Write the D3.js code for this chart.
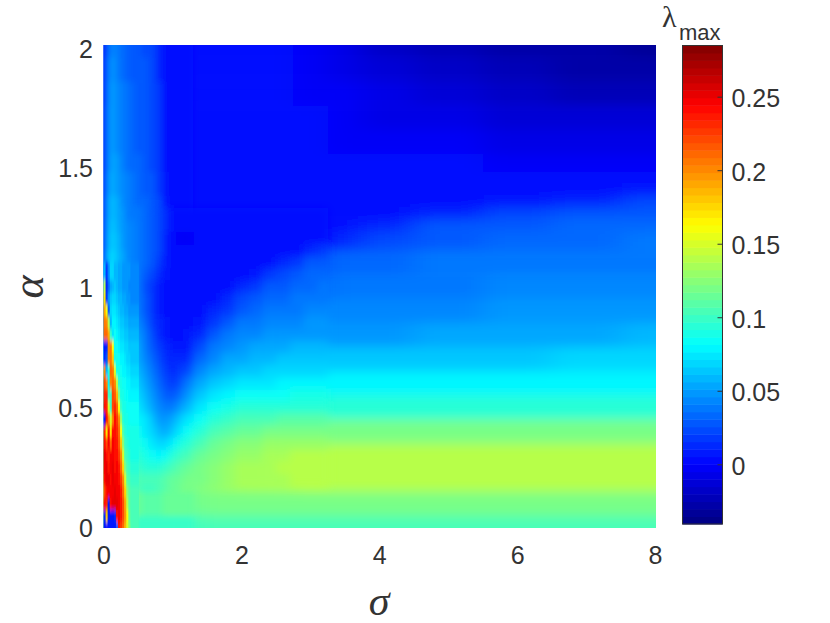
<!DOCTYPE html>
<html>
<head>
<meta charset="utf-8">
<script src="https://cdn.jsdelivr.net/npm/d3@7"></script>
<style>
	html, body { margin: 0; background: #ffffff; }
	text { font-family: "Liberation Sans", Arial, sans-serif; fill: #333333; }
	.greek { font-family: "Liberation Serif", "Times New Roman", serif; }
</style>
</head>
<body>
<svg id="chart" width="830" height="623"></svg>
<script>
// tick labels
var sigmaTicks = [0, 2, 4, 6, 8];
var alphaTicks = [0, 0.5, 1, 1.5, 2];
var lambdaTicks = [0, 0.05, 0.1, 0.15, 0.2, 0.25];

// jet colormap, 64 levels like the matlab original
var jetPositions = [0, 0.125, 0.375, 0.625, 0.875, 1];
var jetColors = ["#000080", "#0000ff", "#00ffff", "#ffff00", "#ff0000", "#800000"];
var lambdaRange = [-0.0406, 0.2848];

// coarse read of the whole map, lambda_max at (sigma, alpha)
var sigmaCols = [0.02, 0.06, 0.1, 0.15, 0.2, 0.3, 0.4, 0.5, 0.6, 0.7, 0.8, 0.9, 1, 1.2, 1.4, 1.7, 2, 2.5, 3, 3.5, 4, 5, 6, 7, 8];
var alphaRows = [2, 1.9, 1.8, 1.7, 1.6, 1.5, 1.45, 1.4, 1.35, 1.3, 1.25, 1.2, 1.1, 1, 0.9, 0.8, 0.7, 0.6, 0.5, 0.4, 0.3, 0.2, 0.1, 0];
var lambdaValues = [
	[.004,.03,.045,.042,.038,.033,.03,.028,.025,.022,.012,.004,.003,.003,.003,.003,.003,.002,-.004,-.01,-.016,-.024,-.028,-.030,-.032],
	[.006,.035,.05,.046,.04,.034,.03,.028,.026,.022,.014,.002,.004,.004,.004,.004,.003,.002,-.002,-.008,-.013,-.02,-.024,-.026,-.028],
	[.006,.035,.052,.048,.042,.036,.032,.03,.026,.024,.016,.002,.004,.004,.004,.004,.004,.003,0,-.005,-.009,-.015,-.019,-.021,-.023],
	[.006,.036,.052,.05,.044,.037,.032,.03,.027,.024,.016,.002,.003,.004,.004,.004,.004,.003,.001,-.003,-.006,-.01,-.012,-.013,-.014],
	[.006,.036,.054,.05,.045,.038,.033,.03,.027,.024,.017,.003,.002,.004,.004,.004,.004,.004,.002,0,-.002,-.004,-.006,-.007,-.008],
	[.006,.04,.056,.052,.046,.04,.035,.031,.028,.025,.018,.005,.002,.003,.004,.004,.005,.005,.004,.003,.002,.001,0,0,0],
	[.006,.042,.058,.054,.048,.041,.036,.032,.029,.026,.019,.006,.002,.003,.004,.004,.005,.005,.005,.004,.004,.004,.004,.004,.005],
	[.007,.045,.06,.056,.05,.043,.038,.034,.03,.027,.02,.008,.002,.002,.003,.004,.005,.005,.005,.005,.005,.005,.005,.005,.008],
	[.007,.048,.062,.058,.052,.045,.039,.035,.031,.028,.021,.01,.002,.002,.003,.004,.005,.005,.005,.005,.004,.005,.006,.012,.022],
	[.008,.05,.064,.06,.054,.046,.04,.036,.032,.029,.022,.012,.002,.002,.003,.004,.004,.004,.004,.004,.003,.012,.022,.028,.03],
	[.008,.052,.066,.062,.055,.047,.041,.037,.033,.03,.023,.012,.002,.002,.002,.003,.003,.003,.003,.003,.012,.026,.03,.033,.033],
	[.01,.054,.07,.065,.057,.049,.042,.038,.034,.03,.022,.01,.002,.002,.002,.002,.002,.002,.003,.015,.025,.03,.034,.035,.036],
	[.012,.058,.075,.07,.06,.052,.045,.04,.035,.03,.02,.008,.002,.002,.002,.002,.002,.01,.027,.032,.035,.037,.038,.039,.04],
	[.02,.06,.07,.065,.06,.055,.045,.03,.02,.012,.005,.002,.002,.002,.002,.002,.012,.028,.035,.038,.04,.04,.042,.043,.045],
	[.03,.05,.07,.075,.07,.062,.05,.038,.025,.015,.008,.004,.003,.002,.003,.016,.03,.038,.042,.043,.044,.045,.046,.047,.048],
	[.05,.06,.08,.085,.08,.07,.058,.045,.033,.02,.012,.007,.006,.006,.015,.033,.04,.046,.049,.05,.05,.051,.052,.055,.058],
	[.07,.08,.09,.09,.085,.078,.065,.055,.042,.028,.018,.014,.012,.018,.033,.048,.055,.06,.063,.063,.065,.066,.066,.068,.07],
	[.08,.09,.095,.095,.09,.085,.075,.065,.052,.04,.028,.022,.022,.038,.052,.065,.07,.076,.077,.078,.078,.08,.08,.08,.081],
	[.09,.1,.1,.1,.1,.095,.085,.073,.062,.05,.038,.035,.04,.062,.072,.085,.088,.095,.095,.095,.095,.096,.096,.096,.096],
	[.1,.11,.11,.11,.105,.1,.09,.082,.072,.062,.052,.055,.07,.088,.095,.105,.112,.118,.12,.12,.12,.12,.12,.12,.118],
	[.11,.12,.12,.12,.11,.105,.1,.09,.085,.078,.075,.085,.095,.108,.115,.125,.13,.136,.14,.14,.14,.142,.142,.142,.14],
	[.12,.13,.13,.13,.125,.12,.115,.105,.1,.1,.105,.11,.115,.12,.125,.13,.135,.137,.138,.138,.14,.14,.14,.14,.138],
	[.125,.13,.13,.13,.13,.13,.13,.115,.11,.11,.11,.113,.115,.117,.118,.118,.12,.118,.118,.118,.118,.118,.118,.118,.118],
	[.12,.12,.12,.12,.12,.12,.12,.1,.1,.1,.1,.1,.1,.1,.102,.104,.105,.102,.102,.102,.102,.102,.102,.102,.102]
];

// closer read of the dark valley around sigma = 1
var valleySigma = [0.4, 0.5, 0.6, 0.7, 0.8, 0.9, 1, 1.1, 1.2, 1.4, 1.6, 1.8, 2, 2.2, 2.4, 2.6, 2.8, 3, 3.2];
var valleyAlpha = [1.3, 1.25, 1.2, 1.15, 1.1, 1.05, 1, 0.95, 0.9, 0.85, 0.8, 0.75, 0.7, 0.65, 0.6, 0.55, 0.5, 0.45, 0.4, 0.35, 0.3, 0.25, 0.2];
var valleyValues = [
	[.04,.036,.032,.029,.022,.012,.004,.002,.002,.002,.003,.004,.004,.004,.004,.004,.004,.004,.004],
	[.041,.037,.033,.03,.023,.012,.003,.002,.002,.002,.003,.003,.003,.003,.003,.003,.003,.003,.004],
	[.042,.038,.034,.03,.022,.01,.002,-.002,-.003,.001,.002,.002,.002,.002,.002,.002,.002,.003,.005],
	[.043,.039,.034,.03,.021,.009,.002,.002,.002,.002,.002,.002,.002,.002,.002,.003,.005,.012,.016],
	[.045,.04,.035,.03,.02,.008,.002,.002,.002,.002,.002,.002,.002,.003,.005,.012,.02,.027,.03],
	[.047,.038,.03,.024,.015,.006,.002,.002,.002,.002,.002,.002,.004,.008,.016,.024,.03,.032,.034],
	[.048,.036,.025,.016,.01,.004,.002,.002,.002,.002,.002,.004,.012,.02,.026,.03,.033,.035,.037],
	[.05,.038,.026,.016,.009,.004,.002,.002,.002,.002,.004,.012,.022,.027,.031,.034,.036,.038,.04],
	[.052,.04,.028,.018,.01,.005,.003,.002,.002,.003,.012,.02,.03,.034,.037,.039,.04,.042,.042],
	[.055,.043,.032,.02,.012,.006,.004,.003,.003,.008,.02,.03,.036,.04,.042,.044,.045,.046,.046],
	[.058,.047,.036,.024,.014,.008,.005,.005,.006,.015,.028,.036,.042,.045,.047,.048,.049,.05,.05],
	[.062,.051,.04,.028,.017,.011,.008,.008,.01,.024,.036,.044,.05,.053,.055,.056,.057,.058,.058],
	[.066,.056,.044,.032,.021,.014,.011,.011,.015,.033,.044,.052,.056,.059,.061,.062,.063,.064,.064],
	[.07,.06,.05,.037,.026,.018,.015,.016,.025,.042,.052,.06,.063,.066,.068,.07,.07,.07,.071],
	[.075,.065,.055,.043,.032,.024,.02,.024,.036,.052,.062,.068,.072,.074,.076,.077,.078,.078,.078],
	[.08,.07,.06,.05,.038,.03,.028,.035,.048,.064,.073,.078,.082,.084,.086,.086,.087,.087,.087],
	[.085,.075,.066,.056,.044,.036,.04,.048,.06,.074,.082,.088,.092,.094,.095,.095,.096,.096,.096],
	[.09,.08,.072,.062,.05,.046,.052,.062,.072,.085,.092,.098,.102,.105,.106,.107,.108,.108,.108],
	[.092,.085,.076,.068,.058,.056,.066,.076,.085,.095,.102,.108,.114,.116,.118,.12,.12,.12,.12],
	[.095,.088,.082,.076,.068,.07,.08,.088,.095,.105,.112,.118,.124,.126,.128,.13,.13,.13,.13],
	[.1,.092,.087,.083,.08,.086,.094,.1,.105,.113,.12,.125,.13,.132,.134,.136,.138,.14,.14],
	[.105,.098,.095,.094,.093,.098,.104,.108,.113,.12,.124,.128,.133,.135,.136,.138,.139,.14,.14],
	[.112,.105,.102,.102,.104,.108,.112,.115,.118,.122,.126,.13,.134,.135,.136,.137,.138,.138,.138]
];

// finer read of the hot streaks next to the alpha axis
var stripSigma = [0.015, 0.045, 0.075, 0.105, 0.135, 0.165, 0.195, 0.225, 0.255, 0.285, 0.315, 0.345, 0.375, 0.405];
var stripAlpha = [1.05, 1, 0.95, 0.9, 0.85, 0.8, 0.75, 0.7, 0.65, 0.6, 0.55, 0.5, 0.45, 0.4, 0.35, 0.3, 0.25, 0.2, 0.15, 0.1, 0.05, 0];
var stripValues = [
	[.06,.02,.045,.068,.068,.06,.058,.055,.052,.05,.05,.048,.046,.045],
	[.14,.012,.035,.055,.06,.062,.058,.055,.052,.05,.048,.046,.045,.045],
	[.17,.02,.05,.065,.07,.07,.065,.06,.057,.055,.052,.05,.048,.045],
	[.19,.16,.03,.07,.075,.075,.07,.065,.06,.057,.055,.052,.05,.05],
	[.205,.2,.14,.06,.08,.08,.075,.07,.065,.062,.06,.057,.055,.052],
	[.21,.21,.19,.1,.075,.085,.08,.075,.07,.067,.065,.062,.06,.058],
	[.01,.015,.2,.205,.16,.085,.085,.08,.075,.072,.07,.067,.065,.062],
	[.015,.03,.2,.205,.18,.09,.088,.085,.08,.078,.075,.07,.068,.065],
	[.2,.06,.09,.21,.205,.15,.09,.088,.085,.08,.078,.075,.072,.07],
	[.22,.2,.08,.2,.21,.2,.14,.095,.088,.085,.082,.08,.078,.075],
	[.23,.23,.1,.1,.22,.215,.185,.12,.09,.088,.085,.082,.08,.08],
	[.24,.23,.15,.1,.22,.23,.21,.16,.1,.09,.088,.085,.082,.082],
	[.01,.24,.2,.15,.2,.24,.225,.2,.13,.095,.09,.088,.085,.085],
	[.23,.17,.24,.17,.24,.24,.23,.21,.16,.105,.095,.09,.088,.088],
	[.24,.22,.245,.21,.245,.24,.235,.215,.18,.125,.098,.095,.09,.09],
	[.25,.24,.23,.245,.245,.24,.24,.225,.2,.15,.105,.1,.095,.09],
	[.245,.25,.235,.245,.25,.24,.245,.235,.21,.175,.12,.105,.1,.095],
	[.24,.25,.25,.24,.25,.245,.245,.24,.225,.2,.15,.11,.105,.1],
	[.22,.24,.245,.245,.245,.25,.245,.245,.235,.21,.175,.125,.11,.105],
	[.24,.23,.01,.24,.25,.25,.25,.245,.24,.22,.19,.14,.11,.105],
	[.015,.18,.01,.01,.01,.015,.24,.245,.24,.22,.195,.16,.115,.105],
	[.01,.01,.01,.01,.01,.01,.03,.235,.225,.21,.185,.15,.125,.105]
];

var svg = d3.select("#chart");

var x = d3.scaleLinear().domain([0, 8]).range([103.5, 656]);
var y = d3.scaleLinear().domain([0, 2]).range([528, 45]);
var yLabel = d3.scaleLinear().domain([0, 2]).range([528, 49]);
var xLabel = d3.scaleLinear().domain([0, 8]).range([103.5, 655]);
var barY = d3.scaleLinear().domain(lambdaRange).range([524, 45.5]);

var levels = d3.range(64);
var jet = d3.scaleLinear().domain(jetPositions).range(jetColors).interpolate(d3.interpolateRgb);
var level = d3.scaleQuantize().domain(lambdaRange).range(levels);
function color(v) {
	return jet((level(v) + 0.5) / 64);
}

// cell edges halfway between neighbours, outer ones pushed past the clip so the blur has no fade there
function edges(values, pad) {
	var dir = values[1] > values[0] ? 1 : -1;
	var out = [values[0] - dir * pad];
	for (var i = 1; i < values.length; i++) {
		out.push((values[i - 1] + values[i]) / 2);
	}
	out.push(values[values.length - 1] + dir * pad);
	return out;
}

function flatten(sigmas, alphas, rows, sigmaPad, alphaPad) {
	var xe = edges(sigmas, sigmaPad);
	var ye = edges(alphas, alphaPad);
	var cells = [];
	rows.forEach(function(row, r) {
		row.forEach(function(v, c) {
			cells.push({ x0: xe[c], x1: xe[c + 1], y0: ye[r], y1: ye[r + 1], v: v });
		});
	});
	return cells;
}

var defs = svg.append("defs");
defs.append("clipPath").attr("id", "plot-clip")
	.append("rect")
	.attr("x", x(0)).attr("y", y(2))
	.attr("width", x(8) - x(0)).attr("height", y(0) - y(2));

function softFilter(id, amount) {
	defs.append("filter").attr("id", id)
		.attr("filterUnits", "userSpaceOnUse")
		.attr("x", 0).attr("y", 0).attr("width", 830).attr("height", 623)
		.append("feGaussianBlur").attr("stdDeviation", amount);
}
softFilter("soft-far", "14 6");
softFilter("soft-valley", "4 4");
softFilter("soft-near", "3 3");
softFilter("soft-strip", "0.7 2.5");

function drawCells(parent, cells) {
	parent.selectAll("rect")
		.data(cells)
		.enter()
		.append("rect")
		.attr("x", function(d) { return x(d.x0); })
		.attr("y", function(d) { return y(d.y0); })
		.attr("width", function(d) { return x(d.x1) - x(d.x0) + 0.5; })
		.attr("height", function(d) { return y(d.y1) - y(d.y0) + 0.5; })
		.attr("fill", function(d) { return color(d.v); });
}

// coarse table first, closer reads on top, tighter blur where the cells are narrow
var mapCells = flatten(sigmaCols, alphaRows, lambdaValues, 1.5, 0.3);
var plot = svg.append("g").attr("clip-path", "url(#plot-clip)");
drawCells(plot.append("g").attr("filter", "url(#soft-far)"), mapCells);
drawCells(plot.append("g").attr("filter", "url(#soft-near)"),
	mapCells.filter(function(d) { return d.x1 <= 1.3; }));
drawCells(plot.append("g").attr("filter", "url(#soft-valley)"),
	flatten(valleySigma, valleyAlpha, valleyValues, 0.05, 0.025));
drawCells(plot.append("g").attr("filter", "url(#soft-strip)"),
	flatten(stripSigma, stripAlpha, stripValues, 0.1, 0.05));

// axes, labels only as in the original
var xAxis = svg.append("g")
	.attr("transform", "translate(0,538)")
	.call(d3.axisBottom(xLabel).tickValues(sigmaTicks).tickSize(0).tickPadding(8).tickFormat(d3.format("d")));
xAxis.select(".domain").remove();
xAxis.selectAll("text").attr("font-size", "25px").attr("fill", "#333333").style("font-family", "inherit");

var yAxis = svg.append("g")
	.attr("transform", "translate(93,0)")
	.call(d3.axisLeft(yLabel).tickValues(alphaTicks).tickSize(0).tickPadding(0).tickFormat(d3.format("")));
yAxis.select(".domain").remove();
yAxis.selectAll("text").attr("font-size", "25px").attr("fill", "#333333").style("font-family", "inherit");

svg.append("text")
	.attr("class", "greek")
	.attr("transform", "translate(43,287) rotate(-90)")
	.attr("text-anchor", "middle")
	.attr("font-size", "44px")
	.attr("font-style", "italic")
	.text("α");

svg.append("text")
	.attr("class", "greek")
	.attr("x", 379)
	.attr("y", 615)
	.attr("text-anchor", "middle")
	.attr("font-size", "42px")
	.attr("font-style", "italic")
	.text("σ");

// colorbar
var barLeft = 682.5;
var barRight = 722.5;
var bar = svg.append("g");
bar.selectAll("rect")
	.data(levels)
	.enter()
	.append("rect")
	.attr("x", barLeft)
	.attr("width", barRight - barLeft)
	.attr("y", function(i) { return barY(level.invertExtent(i)[1]); })
	.attr("height", function(i) { return barY(level.invertExtent(i)[0]) - barY(level.invertExtent(i)[1]) + 0.5; })
	.attr("fill", function(i) { return jet((i + 0.5) / 64); });
bar.append("rect")
	.attr("x", barLeft)
	.attr("y", barY(lambdaRange[1]))
	.attr("width", barRight - barLeft)
	.attr("height", barY(lambdaRange[0]) - barY(lambdaRange[1]))
	.attr("fill", "none")
	.attr("stroke", "#333333")
	.attr("stroke-width", 1);

var barAxis = svg.append("g")
	.attr("transform", "translate(" + barRight + ",0)")
	.call(d3.axisRight(barY).tickValues(lambdaTicks).tickSize(-5).tickPadding(9).tickFormat(d3.format("")));
barAxis.select(".domain").remove();
barAxis.selectAll("line").attr("stroke", "#333333");
barAxis.selectAll("text").attr("font-size", "25px").attr("fill", "#333333").attr("dy", "0.4em").style("font-family", "inherit");

svg.append("text")
	.attr("class", "greek")
	.attr("x", 662)
	.attr("y", 27)
	.attr("font-size", "30px")
	.text("λ");
svg.append("text")
	.attr("x", 679)
	.attr("y", 40)
	.attr("font-size", "22px")
	.text("max");
</script>
</body>
</html>
